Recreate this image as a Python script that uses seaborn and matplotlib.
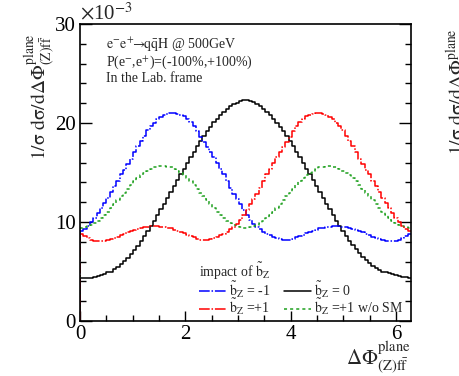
import numpy as np
import pandas as pd
import matplotlib
matplotlib.use("Agg")
import matplotlib.pyplot as plt
from matplotlib.lines import Line2D
from matplotlib.ticker import MultipleLocator
import seaborn as sns

sns.set_theme(style="ticks")
plt.rcParams['font.family'] = ['Liberation Serif', 'DejaVu Serif']
plt.rcParams['mathtext.fontset'] = 'stix'

# ---------------- data (values in units of 1e-3) ----------------
n_bins = 100

bz_m1 = [9.1, 9.3, 9.6, 10.0, 10.4, 10.9, 11.4, 11.9, 12.4, 13.0,
         13.6, 14.1, 14.8, 15.3, 15.9, 16.4, 17.1, 17.7, 18.2, 18.7,
         19.3, 19.7, 20.0, 20.4, 20.6, 20.8, 20.9, 21.0, 21.0, 20.9,
         20.8, 20.7, 20.4, 20.1, 19.7, 19.2, 18.6, 18.1, 17.6, 17.1,
         16.6, 16.0, 15.4, 14.8, 14.1, 13.4, 12.8, 12.3, 11.8, 11.2,
         10.7, 10.2, 9.8, 9.5, 9.3, 9.0, 8.8, 8.7, 8.5, 8.4,
         8.3, 8.2, 8.2, 8.2, 8.3, 8.5, 8.6, 8.7, 8.9, 9.0,
         9.1, 9.2, 9.4, 9.4, 9.5, 9.5, 9.6, 9.6, 9.6, 9.5,
         9.5, 9.4, 9.3, 9.2, 9.1, 9.0, 8.8, 8.7, 8.5, 8.4,
         8.3, 8.2, 8.1, 8.1, 8.1, 8.1, 8.2, 8.4, 8.6, 8.8]

bz_0 = [4.3, 4.3, 4.3, 4.3, 4.4, 4.5, 4.6, 4.7, 4.9, 5.0,
        5.3, 5.5, 5.8, 6.1, 6.4, 6.8, 7.2, 7.6, 8.1, 8.6,
        9.1, 9.6, 10.1, 10.7, 11.3, 11.8, 12.4, 13.0, 13.6, 14.2,
        14.8, 15.4, 16.0, 16.6, 17.1, 17.7, 18.2, 18.7, 19.2, 19.6,
        20.1, 20.4, 20.8, 21.1, 21.4, 21.7, 21.9, 22.0, 22.2, 22.3,
        22.3, 22.2, 22.1, 21.9, 21.7, 21.4, 21.1, 20.8, 20.4, 20.0,
        19.6, 19.2, 18.7, 18.2, 17.7, 17.1, 16.6, 16.0, 15.4, 14.8,
        14.2, 13.6, 13.0, 12.4, 11.8, 11.3, 10.7, 10.1, 9.6, 9.1,
        8.6, 8.1, 7.7, 7.3, 6.9, 6.5, 6.2, 5.9, 5.6, 5.4,
        5.2, 5.0, 4.9, 4.8, 4.7, 4.6, 4.5, 4.4, 4.4, 4.3]

bz_p1 = [8.8, 8.6, 8.4, 8.2, 8.1, 8.1, 8.1, 8.1, 8.2, 8.3,
         8.4, 8.5, 8.7, 8.8, 9.0, 9.1, 9.2, 9.3, 9.4, 9.5,
         9.5, 9.6, 9.6, 9.6, 9.5, 9.5, 9.4, 9.4, 9.2, 9.1,
         9.0, 8.9, 8.7, 8.6, 8.5, 8.3, 8.2, 8.2, 8.2, 8.3,
         8.4, 8.5, 8.7, 8.8, 9.0, 9.3, 9.5, 9.8, 10.2, 10.7,
         11.2, 11.8, 12.3, 12.8, 13.4, 14.1, 14.8, 15.4, 16.0, 16.6,
         17.1, 17.6, 18.1, 18.6, 19.2, 19.7, 20.1, 20.4, 20.7, 20.8,
         20.9, 21.0, 21.0, 20.9, 20.8, 20.6, 20.4, 20.0, 19.7, 19.3,
         18.7, 18.2, 17.7, 17.1, 16.4, 15.9, 15.3, 14.8, 14.1, 13.6,
         13.0, 12.4, 11.9, 11.4, 10.9, 10.4, 10.0, 9.6, 9.3, 9.1]

bz_p1_nosm = [9.4, 9.5, 9.6, 9.7, 9.9, 10.1, 10.4, 10.7, 11.0, 11.4,
              11.8, 12.2, 12.6, 12.9, 13.3, 13.7, 14.1, 14.4, 14.7, 15.0,
              15.2, 15.4, 15.6, 15.6, 15.7, 15.7, 15.6, 15.6, 15.4, 15.2,
              15.0, 14.7, 14.4, 14.1, 13.7, 13.3, 12.9, 12.6, 12.2, 11.8,
              11.4, 11.0, 10.7, 10.4, 10.1, 9.9, 9.7, 9.6, 9.5, 9.4,
              9.4, 9.5, 9.6, 9.7, 9.9, 10.1, 10.4, 10.7, 11.0, 11.4,
              11.8, 12.2, 12.6, 12.9, 13.3, 13.7, 14.1, 14.4, 14.7, 15.0,
              15.2, 15.4, 15.6, 15.6, 15.7, 15.7, 15.6, 15.6, 15.4, 15.2,
              15.0, 14.7, 14.4, 14.1, 13.7, 13.3, 12.9, 12.6, 12.2, 11.8,
              11.4, 11.0, 10.7, 10.4, 10.1, 9.9, 9.7, 9.6, 9.5, 9.4]

series_labels = [r"$\tilde{\mathrm{b}}_{\mathrm{Z}}$ = -1",
                 r"$\tilde{\mathrm{b}}_{\mathrm{Z}}$ =+1",
                 r"$\tilde{\mathrm{b}}_{\mathrm{Z}}$ = 0",
                 r"$\tilde{\mathrm{b}}_{\mathrm{Z}}$ =+1 w/o SM"]
x_ticks = [0, 2, 4, 6]
y_ticks = [0, 10, 20, 30]

# ---------------- styles ----------------
styles = {
    0: dict(color="#0000ff", ls=(0, (7, 1.2, 1, 1.2))),
    1: dict(color="#ff0000", ls=(0, (7, 1.2, 1, 1.2))),
    2: dict(color="#000000", ls="-"),
    3: dict(color="#1fa01f", ls=(0, (2, 2))),
}
values = [bz_m1, bz_p1, bz_0, bz_p1_nosm]

edges = np.linspace(0, 2 * np.pi, n_bins + 1)
centers = 0.5 * (edges[:-1] + edges[1:])
bin_list = edges.tolist()

fig = plt.figure(figsize=(4.6, 3.76), dpi=100)
ax = fig.add_axes([80 / 460, 55 / 376, 331 / 460, 297 / 376])

draw_order = [2, 0, 3, 1]
for k in draw_order:
    df = pd.DataFrame({"phi": centers, "w": values[k]})
    sns.histplot(data=df, x="phi", weights="w", bins=bin_list, element="step",
                 fill=False, color=styles[k]["color"], linestyle=styles[k]["ls"],
                 linewidth=1.1, ax=ax, legend=False)
    ax.vlines(edges[0], 0, values[k][0], color=styles[k]["color"],
              linestyle=styles[k]["ls"], linewidth=1.1)

ax.set_xlim(0, 2 * np.pi)
ax.set_ylim(0, 30)
ax.set_xticks(x_ticks)
ax.set_yticks(y_ticks)
ax.xaxis.set_minor_locator(MultipleLocator(0.5))
ax.yaxis.set_minor_locator(MultipleLocator(2))
ax.set_xlabel("")
ax.set_ylabel("")
ax.tick_params(axis="both", which="both", direction="in", right=True, top=False,
               labelsize=15, colors="black", width=1.0, pad=3)
ax.tick_params(axis="y", which="major", length=8.5)
ax.tick_params(axis="y", which="minor", length=4)
ax.tick_params(axis="x", which="major", length=7)
ax.tick_params(axis="x", which="minor", length=4)
for sp in ax.spines.values():
    sp.set_linewidth(1.2)
    sp.set_color("black")

# texts
ax.text(0.0, 1.0, r"$\times$10$^{-3}$", transform=ax.transAxes, ha="left",
        va="bottom", fontsize=15)
ax.text(0.08, 0.93,
        r"$\mathrm{e^{-}e^{+}}\!\!\rightarrow\!\!\mathrm{q\bar{q}H}$ @ 500GeV",
        transform=ax.transAxes, ha="left", va="center", fontsize=10)
ax.text(0.08, 0.872, r"P(e$^{-}$,e$^{+}$)=(-100%,+100%)",
        transform=ax.transAxes, ha="left", va="center", fontsize=10)
ax.text(0.08, 0.815, "In the Lab. frame",
        transform=ax.transAxes, ha="left", va="center", fontsize=10)

ylab = r"$\mathrm{1/\sigma\ d\sigma/d\Delta\Phi^{plane}_{(Z)f\bar{f}}}$"
fig.text(40 / 460, 1 - 97 / 376, ylab, rotation=90, ha="center", va="center",
         fontsize=14)
fig.text(411 / 460, 1 - 358 / 376,
         r"$\mathrm{\Delta\Phi^{plane}_{(Z)f\bar{f}}}$",
         ha="right", va="center", fontsize=15)
# neighbouring panel label, cut by the right border
fig.text(457 / 460, 1 - 92 / 376, r"$\mathrm{1/\sigma\ d\sigma/d\Delta\Phi^{plane}}$",
         rotation=90, ha="center", va="center", fontsize=14)

# legend
handles = [Line2D([0], [0], color=styles[k]["color"], linestyle=styles[k]["ls"],
                  linewidth=1.1) for k in range(4)]
leg = ax.legend(handles, series_labels, ncol=2, frameon=False,
                title=r"impact of $\tilde{\mathrm{b}}_{\mathrm{Z}}$",
                loc="lower left", bbox_to_anchor=(0.33, -0.02), fontsize=10,
                title_fontsize=10, handlelength=1.95, handletextpad=0.2,
                columnspacing=1.0, labelspacing=-0.2, borderpad=0.2,
                alignment="left")

fig.savefig("out.png", dpi=100)
